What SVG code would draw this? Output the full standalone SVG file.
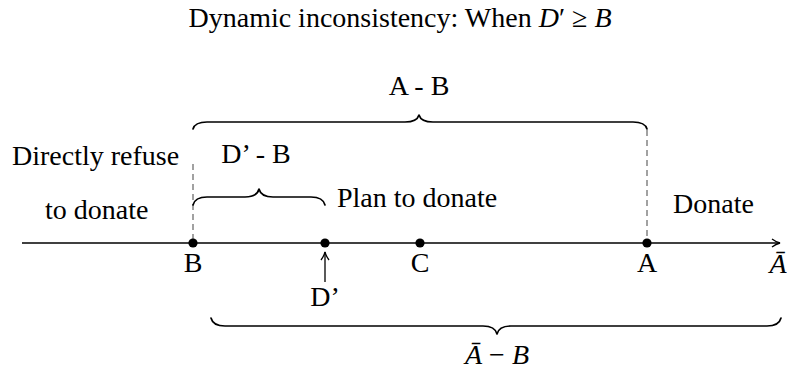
<svg xmlns="http://www.w3.org/2000/svg" width="787" height="378" viewBox="0 0 787 378">
<defs>
<style>
text{font-family:"Liberation Serif","Times New Roman","DejaVu Serif",serif;font-size:28px;fill:#000}
.it{font-style:italic}
.brace{fill:none;stroke:#000;stroke-width:1.7;stroke-linejoin:round;stroke-linecap:round}
.dash{stroke:#555;stroke-width:1.1;stroke-dasharray:6 4;fill:none}
.axis{stroke:#000;stroke-width:1.3;fill:none}
</style>
<marker id="arr" viewBox="0 0 10 10" refX="9" refY="5" markerWidth="10" markerHeight="10" markerUnits="userSpaceOnUse" orient="auto">
<path d="M1,1 Q5,4 9,5 Q5,6 1,9" fill="none" stroke="#000" stroke-width="1.3"/>
</marker>
</defs>
<rect width="787" height="378" fill="#fff"/>
<g font-family="Liberation Serif, DejaVu Serif, serif">
<text x="400" y="27" text-anchor="middle">Dynamic inconsistency: When <tspan class="it">D</tspan>′ ≥ <tspan class="it">B</tspan></text>
<g id="connectors">
<line class="axis" x1="22" y1="243" x2="780" y2="243" marker-end="url(#arr)"/>
<line class="dash" x1="193" y1="164" x2="193" y2="243"/>
<line class="dash" x1="647" y1="130" x2="647" y2="243"/>
<line class="axis" x1="325" y1="282" x2="325" y2="252" marker-end="url(#arr)"/>
<path id="brace-AB" class="brace" d="M193,129 Q195,122 207,122 L405,122 Q417,122 419,115 Q421,122 433,122 L633,122 Q645,122 647,129"/>
<path id="brace-DB" class="brace" d="M193,205 Q195,197 207,197 L245,197 Q257,197 259,189 Q261,197 273,197 L311,197 Q323,197 325,205"/>
<path id="brace-AbarB" class="brace" d="M211,318 Q213,326 225,326 L483,326 Q495,326 497,334 Q499,326 511,326 L767,326 Q779,326 781,318"/>
</g>
<g id="node-B"><circle cx="193" cy="243" r="4.6"/><text x="193" y="272" text-anchor="middle">B</text></g>
<g id="node-D"><circle cx="325" cy="243" r="4.6"/><text x="325" y="306" text-anchor="middle">D’</text></g>
<g id="node-C"><circle cx="420" cy="243" r="4.6"/><text x="420" y="272" text-anchor="middle">C</text></g>
<g id="node-A"><circle cx="647" cy="243" r="4.6"/><text x="647" y="272" text-anchor="middle">A</text></g>
<g id="node-Abar"><text x="778" y="273" text-anchor="middle" class="it">Ā</text></g>
<g id="labels">
<text x="419" y="95" text-anchor="middle">A - B</text>
<text x="256" y="163" text-anchor="middle">D’ - B</text>
<text x="12" y="165">Directly refuse</text>
<text x="45" y="219">to donate</text>
<text x="337" y="207">Plan to donate</text>
<text x="673" y="213">Donate</text>
<text x="497" y="364" text-anchor="middle"><tspan class="it">Ā</tspan> − <tspan class="it">B</tspan></text>
</g>
</g>
</svg>
